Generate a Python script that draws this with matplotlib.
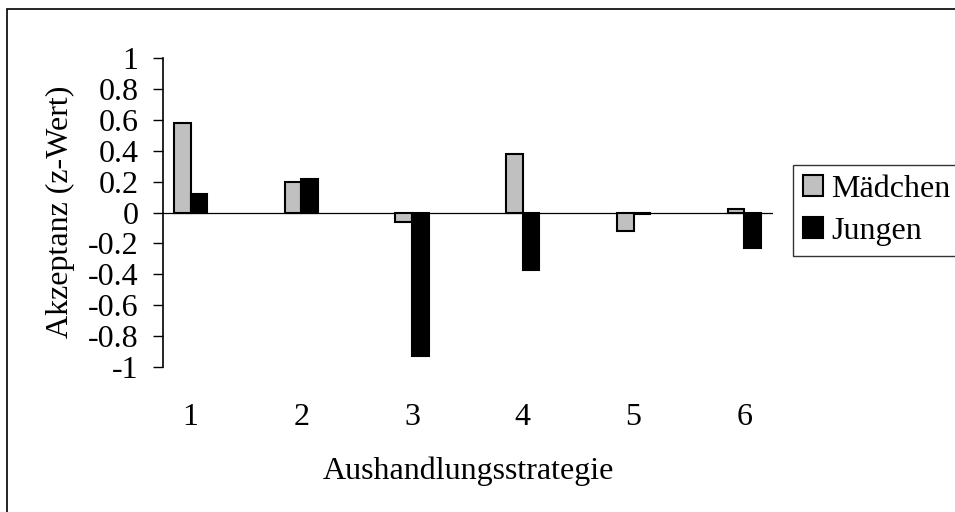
#!/usr/bin/env python3
"""Akzeptanz der Aushandlungsstrategien nach Geschlecht (z-Werte)."""

import matplotlib
matplotlib.use("Agg")
import matplotlib.pyplot as plt
import numpy as np
from matplotlib.patches import Rectangle

categories = ["1", "2", "3", "4", "5", "6"]
maedchen = [0.58, 0.20, -0.06, 0.38, -0.12, 0.02]
jungen = [0.12, 0.22, -0.93, -0.37, -0.01, -0.23]
yticks = [1, 0.8, 0.6, 0.4, 0.2, 0, -0.2, -0.4, -0.6, -0.8, -1]
ytick_labels = ["1", "0.8", "0.6", "0.4", "0.2", "0", "-0.2", "-0.4", "-0.6", "-0.8", "-1"]

plt.rcParams["font.family"] = ["Liberation Serif", "DejaVu Serif"]
FS = 23

W, H = 955, 512
fig = plt.figure(figsize=(W / 100, H / 100), dpi=100)
ax = fig.add_axes([163 / W, 1 - 367 / H, (773 - 163) / W, (367 - 58) / H])

x = np.arange(1, len(categories) + 1)
bw = 0.15
ax.bar(x - bw / 2, maedchen, bw, color="#c0c0c0", edgecolor="black", linewidth=1.5,
       label="Mädchen", zorder=2)
ax.bar(x + bw / 2, jungen, bw, color="black", edgecolor="black", linewidth=1.5,
       label="Jungen", zorder=2)
ax.axhline(0, color="black", linewidth=0.9, zorder=1)

ax.set_xlim(0.75, 6.26)
ax.set_ylim(-1, 1)
ax.set_yticks(yticks)
ax.set_yticklabels(ytick_labels, fontsize=FS)
ax.set_xticks(x)
ax.set_xticklabels(categories, fontsize=FS)
ax.tick_params(axis="x", length=0, pad=26)
ax.tick_params(axis="y", direction="out", length=7.2, width=1, pad=10.5)
for side in ("top", "right", "bottom"):
    ax.spines[side].set_visible(False)
ax.spines["left"].set_linewidth(1.2)

ax.set_xlabel("Aushandlungsstrategie", fontsize=FS, va="center")
ax.xaxis.set_label_coords(0.5, (367 - 471) / (367 - 58))
fig.text(60 / W, 1 - 212 / H, "Akzeptanz (z-Wert)", rotation=90, fontsize=FS,
         ha="center", va="center")

leg = fig.legend(loc="upper left", bbox_to_anchor=(793 / W, 1 - 165 / H),
                 fontsize=FS, frameon=True, fancybox=False, borderaxespad=0,
                 handlelength=0.65, handleheight=0.65, handletextpad=0.25,
                 labelspacing=0.42, borderpad=0.3)
leg.get_frame().set_edgecolor("black")
leg.get_frame().set_linewidth(1.0)

# outer chart border
fig.patches.append(Rectangle((7 / W, -0.05), 1.2, (H - 9) / H + 0.05,
                             transform=fig.transFigure, fill=False,
                             edgecolor="black", linewidth=1.2))

fig.savefig("out.png", dpi=100)
